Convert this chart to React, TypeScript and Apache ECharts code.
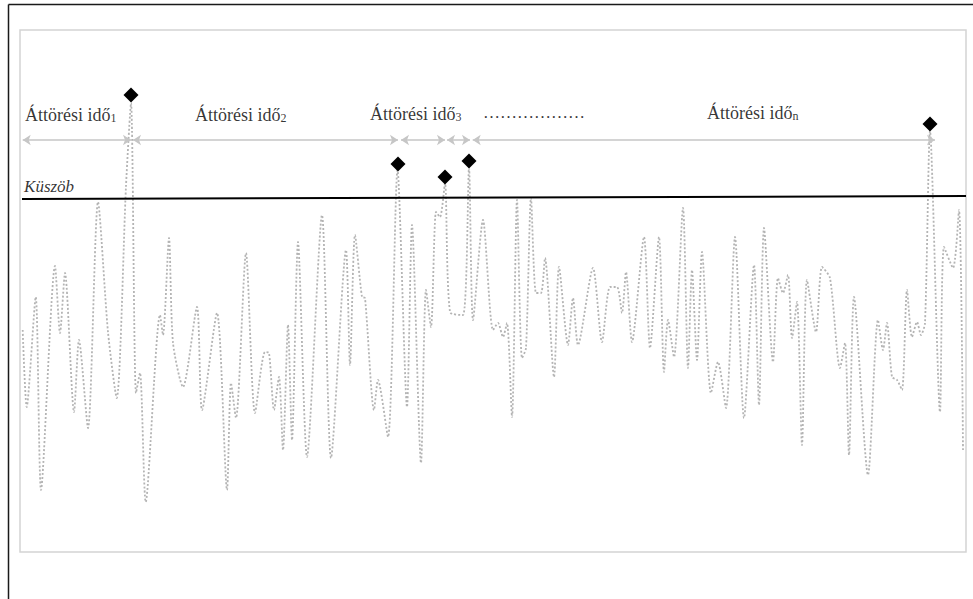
import React, { useEffect, useRef } from "react";
import * as echarts from "echarts";

// Signal (time, value) vertices
const times = [2.7, 6.7, 15.7, 21, 35, 40, 45, 54, 59, 68, 78, 88, 96.7, 106, 111, 116, 120, 125.7, 140, 143, 149, 153, 163, 177, 182, 197, 207, 211, 216, 226, 235, 245, 249, 254, 259, 263, 268, 272, 278, 287, 302, 311, 326, 330, 335, 342, 345, 354, 358, 368, 377.5, 387, 392, 401, 406, 411, 416, 420, 425, 430, 443, 449, 453, 463, 473, 478, 483, 487, 492, 497, 502, 506, 511, 516, 521, 525, 534, 539, 548, 553, 558, 573, 582, 590, 597, 602, 606, 612, 624, 630, 639, 644, 648, 654, 663, 668, 672, 677, 682, 691, 698, 706, 715, 724, 734, 739, 744, 753, 758, 763, 768, 772, 777, 782, 787, 796, 802, 810, 820, 825, 829, 834, 848, 858, 863, 867, 872, 877, 882, 887, 892, 897, 901, 905, 910, 920, 924, 933, 939, 943];
const values = [222, 145, 255, 62, 286, 219, 279, 140, 212, 124, 350, 220, 154, 366, 449, 159, 179, 50, 237, 217, 314, 209, 165, 245, 142, 239, 62, 169, 134, 299, 139, 200, 199, 142, 175, 102, 227, 112, 310, 95, 337, 94, 302, 187, 317, 255, 254, 142, 172, 115, 382, 145, 327, 89, 262, 225, 340, 335, 369, 240, 237, 384, 232, 332, 222, 229, 215, 229, 135, 352, 194, 204, 354, 259, 259, 294, 175, 285, 207, 254, 207, 284, 210, 265, 265, 239, 280, 210, 315, 204, 315, 180, 232, 195, 344, 184, 282, 192, 300, 159, 190, 144, 315, 134, 287, 147, 324, 190, 274, 259, 277, 214, 250, 107, 272, 220, 285, 274, 184, 209, 97, 255, 77, 232, 202, 229, 175, 172, 162, 262, 215, 230, 217, 229, 421, 140, 305, 284, 342, 102];

// Threshold ("Küszöb")
const thresholdT = [2, 946];
const thresholdV = [353, 356];

// Breakthrough markers
const diamondT = [111, 378, 425, 449, 910];
const diamondV = [457, 388, 375, 391, 428];

// Breakthrough-time intervals (start, end) and their level
const intervalStart = [2.7, 113, 381, 427, 452.7];
const intervalEnd = [111, 378, 425, 450, 915];
const intervalLevel = 412;

// Interval labels
const labelMain = ["Áttörési idő", "Áttörési idő", "Áttörési idő", "Áttörési idő"];
const labelSub = ["1", "2", "3", "n"];
const labelT = [5, 175, 350, 687];
const labelV = [438, 438, 439, 440];
const dotsText = "………………";
const dotsT = 463;
const dotsV = 440;
const thresholdLabel = "Küszöb";
const thresholdLabelT = 4;
const thresholdLabelV = 366;

const FONT = "'Liberation Serif', 'Times New Roman', serif";

export default function App() {
  const ref = useRef<HTMLDivElement>(null);
  useEffect(() => {
    if (!ref.current) return;
    const chart = echarts.init(ref.current, undefined, { renderer: "svg" });
    const labelData = labelT.map((t, i) => ({
      value: [t, labelV[i]],
      label: { formatter: `{m|${labelMain[i]}}{s|${labelSub[i]}}` },
    }));
    chart.setOption({
      animation: false,
      backgroundColor: "#ffffff",
      grid: {
        show: true,
        left: 20,
        top: 30,
        width: 946,
        height: 522,
        borderColor: "#d4d4d4",
        borderWidth: 1.5,
        backgroundColor: "transparent",
      },
      xAxis: { type: "value", min: 0, max: 946, show: false },
      yAxis: { type: "value", min: 0, max: 522, show: false },
      graphic: [
        { type: "line", shape: { x1: 8.5, y1: 4.5, x2: 973, y2: 4.5 }, style: { stroke: "#1a1a1a", lineWidth: 1.5 } },
        { type: "line", shape: { x1: 8.5, y1: 4.5, x2: 8.5, y2: 599 }, style: { stroke: "#1a1a1a", lineWidth: 1.5 } },
      ],
      series: [
        {
          name: "signal",
          type: "line",
          data: times.map((t, i) => [t, values[i]]),
          symbol: "none",
          smooth: 0.25,
          lineStyle: { color: "#b4b4b4", width: 1.8, type: [2, 2] },
          z: 2,
        },
        {
          name: "threshold",
          type: "line",
          data: thresholdT.map((t, i) => [t, thresholdV[i]]),
          symbol: "none",
          lineStyle: { color: "#000000", width: 2 },
          z: 3,
        },
        {
          name: "intervals",
          type: "lines",
          coordinateSystem: "cartesian2d",
          symbol: ["arrow", "arrow"],
          symbolSize: 8,
          lineStyle: { color: "#c6c6c6", width: 1.5, opacity: 1 },
          data: intervalStart.map((s, i) => ({ coords: [[s, intervalLevel], [intervalEnd[i], intervalLevel]] })),
          z: 3,
        },
        {
          name: "breakthroughs",
          type: "scatter",
          data: diamondT.map((t, i) => [t, diamondV[i]]),
          symbol: "diamond",
          symbolSize: [15, 15],
          itemStyle: { color: "#000000", opacity: 1 },
          z: 5,
        },
        {
          name: "labels",
          type: "scatter",
          symbolSize: 0.1,
          itemStyle: { color: "transparent" },
          data: labelData,
          label: {
            show: true,
            position: "right",
            distance: 0,
            rich: {
              m: { fontFamily: FONT, fontSize: 18, color: "#000", verticalAlign: "bottom", lineHeight: 20 },
              s: { fontFamily: FONT, fontSize: 12, color: "#000", verticalAlign: "bottom", lineHeight: 8 },
            },
          },
          z: 6,
        },
        {
          name: "annot",
          type: "scatter",
          symbolSize: 0.1,
          itemStyle: { color: "transparent" },
          data: [
            { value: [dotsT, dotsV], label: { formatter: dotsText, fontSize: 17 } },
            { value: [thresholdLabelT, thresholdLabelV], label: { formatter: thresholdLabel, fontStyle: "italic", fontSize: 17 } },
          ],
          label: { show: true, position: "right", distance: 0, fontFamily: FONT, color: "#000" },
          z: 6,
        },
      ],
    });
    return () => chart.dispose();
  }, []);
  return <div ref={ref} style={{ position: "fixed", left: 0, top: 0, width: 973, height: 599 }} />;
}
